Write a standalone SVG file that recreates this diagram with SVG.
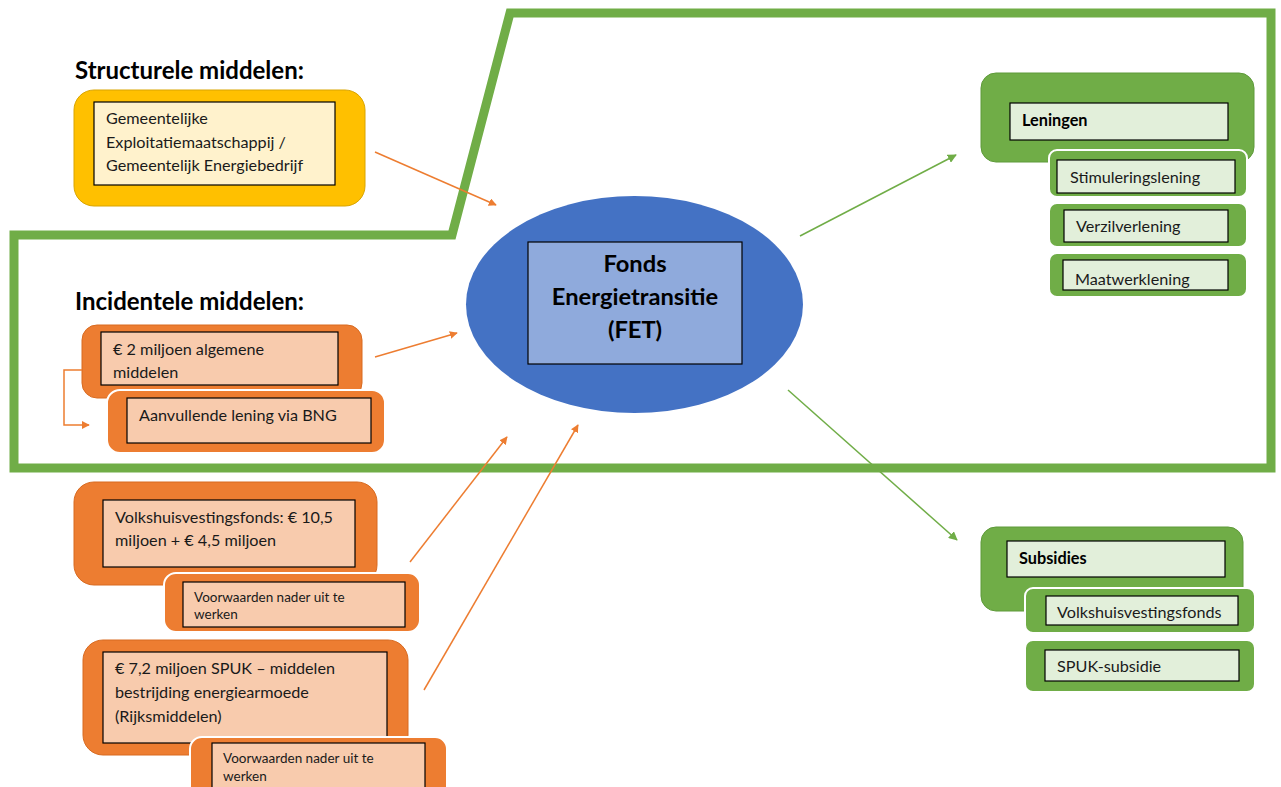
<svg xmlns="http://www.w3.org/2000/svg" width="1281" height="787" viewBox="0 0 1281 787">
<defs>
<style>
text{font-family:Lato,"Noto Sans","Liberation Sans",sans-serif;fill:#1a1a1a}
.title{font-size:24px;font-weight:bold;fill:#000}
.t15{font-size:16.2px}
.t12{font-size:13.5px}
.b13{font-size:16.3px;font-weight:bold;fill:#000}
.fet{font-size:23.7px;font-weight:bold;fill:#000;text-anchor:middle}
.yo{fill:#FFC000;stroke:#D9A400;stroke-width:1}
.yi{fill:#FFF2CC;stroke:#000;stroke-width:1.2}
.oo{fill:#ED7D31;stroke:#D86A20;stroke-width:1}
.ow{fill:#ED7D31;stroke:#fff;stroke-width:2}
.oi{fill:#F8CBAD;stroke:#000;stroke-width:1.2}
.go{fill:#70AD47;stroke:#5E9A3A;stroke-width:1}
.gw{fill:#70AD47;stroke:#fff;stroke-width:2}
.gi{fill:#E2EFDA;stroke:#000;stroke-width:1.2}
.oa{stroke:#ED7D31;stroke-width:1.5;fill:none;marker-end:url(#ao)}
.ga{stroke:#70AD47;stroke-width:1.5;fill:none;marker-end:url(#ag)}
</style>
<marker id="ao" viewBox="0 0 10 10" refX="9" refY="5" markerWidth="8" markerHeight="8" markerUnits="userSpaceOnUse" orient="auto"><path d="M0,0L10,5L0,10z" fill="#ED7D31"/></marker>
<marker id="ag" viewBox="0 0 10 10" refX="9" refY="5" markerWidth="9" markerHeight="9" markerUnits="userSpaceOnUse" orient="auto"><path d="M0,0L10,5L0,10z" fill="#70AD47"/></marker>
<clipPath id="c1"><rect x="1063" y="260" width="165" height="28"/></clipPath>
<clipPath id="c2"><rect x="1046" y="596" width="192" height="25"/></clipPath>
</defs>
<rect width="1281" height="787" fill="#fff"/>

<g id="boundary">
<polygon points="510,13 1271,13 1271,468 14,468 14,235 452,235" fill="none" stroke="#70AD47" stroke-width="9" stroke-linejoin="miter"/>
</g>

<g id="label-structureel"><text class="title" x="75" y="79">Structurele middelen:</text></g>
<g id="label-incidenteel"><text class="title" x="75" y="310">Incidentele middelen:</text></g>

<g id="gem-exploitatie">
<rect class="yo" x="74" y="90" width="291" height="116" rx="20"/>
<rect class="yi" x="94" y="102" width="241" height="83"/>
<text class="t15" x="106" y="124">Gemeentelijke</text>
<text class="t15" x="106" y="148">Exploitatiemaatschappij /</text>
<text class="t15" x="106" y="171">Gemeentelijk Energiebedrijf</text>
</g>

<g id="algemene-middelen">
<rect class="oo" x="82" y="325" width="280" height="73" rx="15"/>
<rect class="oi" x="101" y="332" width="237" height="53"/>
<text class="t15" x="113" y="355">€ 2 miljoen algemene</text>
<text class="t15" x="113" y="378">middelen</text>
</g>

<g id="bng-lening">
<rect class="ow" x="107" y="390" width="278" height="63" rx="13"/>
<rect class="oi" x="127" y="398" width="244" height="45"/>
<text class="t15" x="139" y="421">Aanvullende lening via BNG</text>
</g>

<g id="volkshuisvestingsfonds">
<rect class="oo" x="74" y="482" width="303" height="103" rx="20"/>
<rect class="oi" x="103" y="500" width="252" height="67"/>
<text class="t15" x="115" y="523" textLength="218">Volkshuisvestingsfonds: € 10,5</text>
<text class="t15" x="115" y="546">miljoen + € 4,5 miljoen</text>
</g>

<g id="voorwaarden-1">
<rect class="ow" x="164" y="573" width="256" height="59" rx="12"/>
<rect class="oi" x="183" y="582" width="222" height="45"/>
<text class="t12" x="194" y="602">Voorwaarden nader uit te</text>
<text class="t12" x="194" y="619">werken</text>
</g>

<g id="spuk">
<rect class="oo" x="83" y="640" width="325" height="115" rx="20"/>
<rect class="oi" x="103" y="652" width="284" height="91"/>
<text class="t15" x="115" y="674">€ 7,2 miljoen SPUK – middelen</text>
<text class="t15" x="115" y="698">bestrijding energiearmoede</text>
<text class="t15" x="115" y="722">(Rijksmiddelen)</text>
</g>

<g id="voorwaarden-2">
<rect class="ow" x="190" y="737" width="257" height="70" rx="12"/>
<rect class="oi" x="212" y="743" width="213" height="60"/>
<text class="t12" x="223" y="763">Voorwaarden nader uit te</text>
<text class="t12" x="223" y="781">werken</text>
</g>

<g id="fet">
<ellipse cx="634.5" cy="304.5" rx="168.5" ry="108.5" fill="#4472C4"/>
<rect x="528" y="242" width="214" height="122" fill="#8FAADC" stroke="#000" stroke-width="1.2"/>
<text class="fet" x="635" y="272">Fonds</text>
<text class="fet" x="635" y="305">Energietransitie</text>
<text class="fet" x="635" y="338">(FET)</text>
</g>

<g id="leningen">
<rect class="go" x="981" y="73" width="273" height="89" rx="15"/>
<rect class="gi" x="1010" y="103" width="218" height="37"/>
<text class="b13" x="1022" y="126">Leningen</text>
</g>
<g id="stimuleringslening">
<rect class="gw" x="1049" y="150" width="198" height="47" rx="8"/>
<rect class="gi" x="1057" y="160" width="178" height="33"/>
<text class="t15" x="1070" y="183">Stimuleringslening</text>
</g>
<g id="verzilverlening">
<rect class="gw" x="1049" y="203" width="198" height="44" rx="8"/>
<rect class="gi" x="1064" y="210" width="164" height="32"/>
<text class="t15" x="1076" y="232">Verzilverlening</text>
</g>
<g id="maatwerklening">
<rect class="gw" x="1049" y="253" width="198" height="44" rx="8"/>
<rect class="gi" x="1063" y="260" width="165" height="30"/>
<text class="t15" x="1075" y="285" clip-path="url(#c1)">Maatwerklening</text>
</g>

<g id="subsidies">
<rect class="go" x="981" y="527" width="262" height="84" rx="15"/>
<rect class="gi" x="1007" y="541" width="218" height="36"/>
<text class="b13" x="1019" y="564">Subsidies</text>
</g>
<g id="sub-volkshuisvestingsfonds">
<rect class="gw" x="1025" y="588" width="230" height="45" rx="8"/>
<rect class="gi" x="1046" y="596" width="192" height="29"/>
<text class="t15" x="1057" y="618" clip-path="url(#c2)">Volkshuisvestingsfonds</text>
</g>
<g id="spuk-subsidie">
<rect class="gw" x="1025" y="640" width="230" height="52" rx="8"/>
<rect class="gi" x="1045" y="650" width="194" height="31"/>
<text class="t15" x="1057" y="672">SPUK-subsidie</text>
</g>

<g id="connectors">
<path class="oa" d="M375,152 L496,205"/>
<path class="oa" d="M375,357 L457,333"/>
<path class="oa" d="M410,562 L507,437"/>
<path class="oa" d="M424,690 L578,425"/>
<path class="oa" d="M82,370 L64,370 L64,425 L89,425"/>
<path class="ga" d="M800,236 L956,155"/>
<path class="ga" d="M788,390 L957,540"/>
</g>
</svg>
